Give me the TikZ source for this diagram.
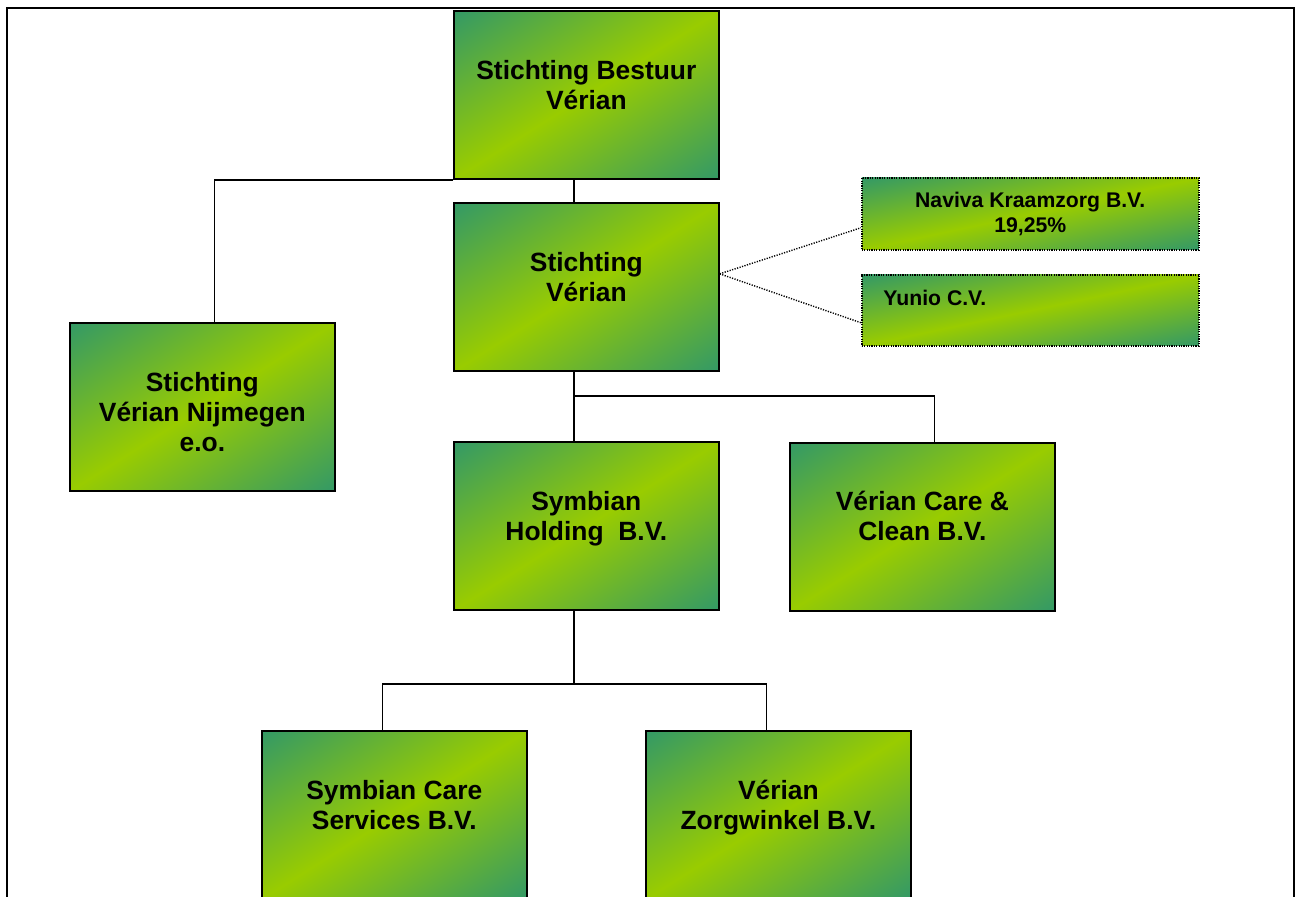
\documentclass[tikz,border=0pt]{standalone}
\usepackage{fontspec}
\setmainfont{Liberation Sans}
\usetikzlibrary{calc}
\pgfdeclarefunctionalshading{diaggreen}{\pgfpointorigin}{\pgfpoint{100bp}{100bp}}{}{%
  sub abs 50 div
  dup -0.4 mul 0.6 add exch
  dup -0.2 mul 0.8 add exch
  0.4 mul
}
\tikzset{
  orgbox/.style={draw=black, line width=0.85pt, shade, shading=diaggreen,
    minimum width=132.5pt, minimum height=84pt, inner sep=0pt, anchor=north west},
  smallbox/.style={orgbox, line width=0.75pt, dash pattern=on 0.6pt off 0.6pt,
    minimum width=168.5pt, minimum height=36pt},
  boxtext/.style={anchor=base, inner sep=0pt, font=\bfseries\fontsize{13.2}{15}\selectfont},
  smalltext/.style={inner sep=0pt, font=\bfseries\fontsize{10.6}{12.7}\selectfont},
  conn/.style={draw=black, line width=0.85pt},
  dotconn/.style={draw=black, line width=0.7pt, dash pattern=on 0.6pt off 0.7pt},
  frameline/.style={draw=black, line width=1.2pt}
}
\begin{document}
\begin{tikzpicture}[x=0.5pt, y=-0.5pt]
\useasboundingbox (0,0) rectangle (1296,896);
\clip (0,0) rectangle (1296,896);
\draw[frameline] (7,7.7) rectangle (1294,940);

% boxes
\node[orgbox] (sb)  at (453,10)  {};
\node[orgbox] (sv)  at (453,202) {};
\node[orgbox] (nij) at (69,322)  {};
\node[orgbox] (sh)  at (453,441) {};
\node[orgbox] (cc)  at (789,442) {};
\node[orgbox] (scs) at (261,730) {};
\node[orgbox] (zw)  at (645,730) {};
\node[smallbox] (nk) at (861,177) {};
\node[smallbox, minimum height=35.5pt] (yu) at (861,274) {};

% texts
\node[boxtext] (sbt) at ($(sb.north)+(0,69.5)$) {\begin{tabular}[t]{@{}c@{}}Stichting Bestuur\\Vérian\end{tabular}};
\node[boxtext] (svt) at ($(sv.north)+(0,69.5)$) {\begin{tabular}[t]{@{}c@{}}Stichting\\Vérian\end{tabular}};
\node[boxtext] (nijt) at ($(nij.north)+(0,69)$) {\begin{tabular}[t]{@{}c@{}}Stichting\\Vérian Nijmegen\\e.o.\end{tabular}};
\node[boxtext] (sht) at ($(sh.north)+(0,69.5)$) {\begin{tabular}[t]{@{}c@{}}Symbian\\Holding\ \ B.V.\end{tabular}};
\node[boxtext] (cct) at ($(cc.north)+(0,68.5)$) {\begin{tabular}[t]{@{}c@{}}Vérian Care \&\\Clean B.V.\end{tabular}};
\node[boxtext] (scst) at ($(scs.north)+(0,69)$) {\begin{tabular}[t]{@{}c@{}}Symbian Care\\Services B.V.\end{tabular}};
\node[boxtext] (zwt) at ($(zw.north)+(0,69)$) {\begin{tabular}[t]{@{}c@{}}Vérian\\Zorgwinkel B.V.\end{tabular}};
\node[smalltext, anchor=base] (nkt) at ($(nk.north)+(0,30.3)$) {\begin{tabular}[t]{@{}c@{}}Naviva Kraamzorg B.V.\\19,25\%\end{tabular}};
\node[smalltext, anchor=base west] (yut) at ($(yu.north west)+(22,31)$) {Yunio C.V.};

% connectors
\draw[conn] ($(sb.south)+(-12.5,0)$) -- ($(sv.north)+(-12.5,0)$);
\draw[conn] (sb.south west) -| ($(nij.north)+(12,0)$);
\draw[conn] ($(sv.south)+(-12.5,0)$) -- ($(sh.north)+(-12.5,0)$);
\coordinate (j1) at ($(sv.south)+(-12.5,24)$);
\draw[conn] (j1) -| ($(cc.north)+(12,0)$);
\draw[conn] ($(sh.south)+(-12.5,0)$) -- ($(sh.south)+(-12.5,73)$) coordinate (j2);
\draw[conn] ($(scs.north)+(-12,0)$) |- (j2) -| ($(zw.north)+(-12,0)$);
\draw[dotconn] ($(sv.east)+(0,-13)$) -- ($(nk.west)+(0,14)$);
\draw[dotconn] ($(sv.east)+(0,-13)$) -- ($(yu.west)+(0,12.5)$);
\end{tikzpicture}
\end{document}
